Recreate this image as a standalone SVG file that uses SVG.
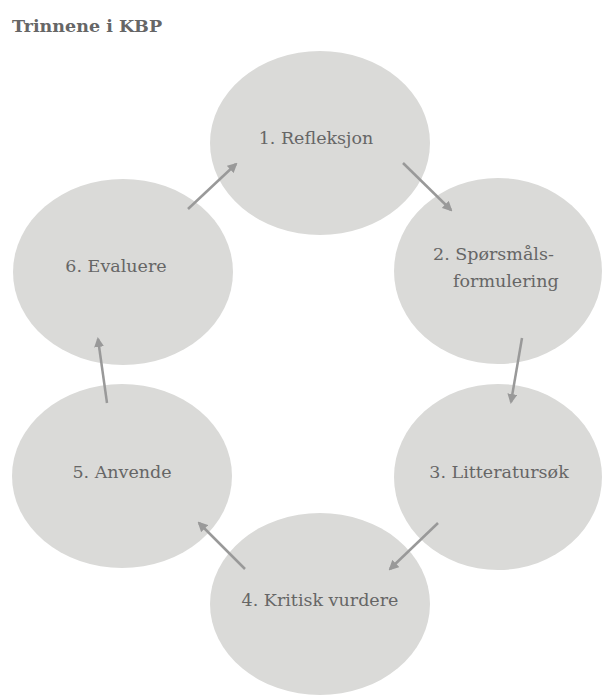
<svg xmlns="http://www.w3.org/2000/svg" width="604" height="695" viewBox="0 0 604 695">
<style>
.node ellipse{fill:#dadad8}
.lbl{font-family:"DejaVu Serif","Liberation Serif",serif;font-size:17.5px;fill:#666}
.title{font-family:"DejaVu Serif","Liberation Serif",serif;font-size:17.5px;font-weight:bold;fill:#666}
.conn line{stroke:#999;stroke-width:2.5;marker-end:url(#ah)}
</style>
<defs>
<marker id="ah" viewBox="0 0 10 10" refX="8" refY="5" markerWidth="4" markerHeight="4" orient="auto" markerUnits="strokeWidth">
<path d="M0,0 L10,5 L0,10 z" fill="#999"/>
</marker>
</defs>
<rect width="604" height="695" fill="#fff"/>
<text class="title" x="12" y="32">Trinnene i KBP</text>
<g id="n1" class="node"><ellipse cx="320" cy="143" rx="110" ry="92"/><text class="lbl" x="316" y="144" text-anchor="middle">1. Refleksjon</text></g>
<g id="n2" class="node"><ellipse cx="498" cy="271" rx="104" ry="93"/><text class="lbl" x="433" y="260">2. Spørsmåls-</text><text class="lbl" x="453" y="287">formulering</text></g>
<g id="n3" class="node"><ellipse cx="498" cy="477" rx="104" ry="93"/><text class="lbl" x="499" y="478" text-anchor="middle">3. Litteratursøk</text></g>
<g id="n4" class="node"><ellipse cx="320" cy="604" rx="110" ry="91"/><text class="lbl" x="320" y="606" text-anchor="middle">4. Kritisk vurdere</text></g>
<g id="n5" class="node"><ellipse cx="122" cy="476" rx="110" ry="92"/><text class="lbl" x="122" y="478" text-anchor="middle">5. Anvende</text></g>
<g id="n6" class="node"><ellipse cx="123" cy="272" rx="110" ry="93"/><text class="lbl" x="116" y="272" text-anchor="middle">6. Evaluere</text></g>
<g id="connectors" class="conn">
<line x1="188" y1="209" x2="236" y2="164"/>
<line x1="403" y1="163" x2="451" y2="210"/>
<line x1="522" y1="338" x2="511" y2="402"/>
<line x1="438" y1="523" x2="390" y2="569"/>
<line x1="245" y1="569" x2="199" y2="523"/>
<line x1="107" y1="403" x2="98" y2="339"/>
</g>
</svg>
